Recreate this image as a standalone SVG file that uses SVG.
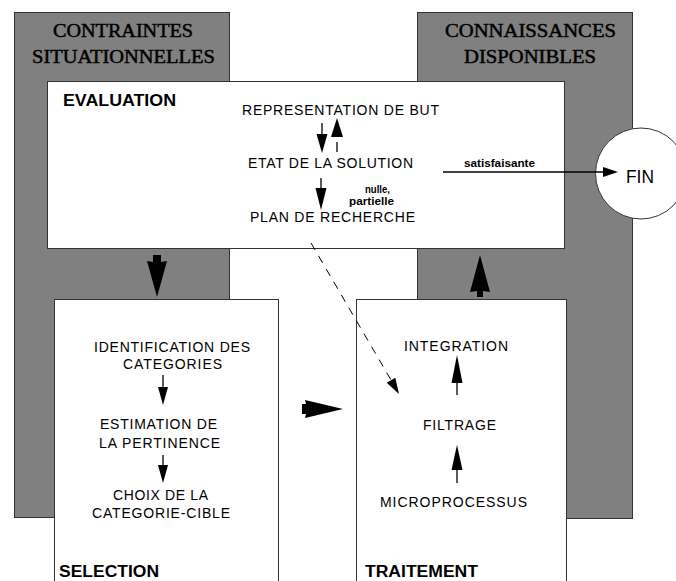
<svg xmlns="http://www.w3.org/2000/svg" width="676" height="581" viewBox="0 0 676 581">
<defs>
<style>
.gray{fill:#808080;stroke:#333;stroke-width:1}
.box{fill:#fff;stroke:#333;stroke-width:1}
.hdr{font-family:"Liberation Serif",serif;font-size:18px;fill:#000;stroke:#000;stroke-width:0.45}
.ttl{font-family:"Liberation Sans",Arial,sans-serif;font-size:16px;font-weight:bold;fill:#000}
.txt{font-family:"Liberation Sans",Arial,sans-serif;font-size:14px;fill:#000}
.sm{font-family:"Liberation Sans",Arial,sans-serif;font-size:10px;font-weight:bold;fill:#000}
.ln{stroke:#000;stroke-width:1.3;fill:none}
.hd{fill:#000;stroke:none}
.dash{stroke:#000;stroke-width:1;fill:none;stroke-dasharray:8 7}
</style>
</defs>
<rect width="676" height="581" fill="#fff"/>

<g id="contraintes">
<rect class="gray" x="14.5" y="12.5" width="215" height="505"/>
<text class="hdr" x="53" y="37" textLength="140" lengthAdjust="spacingAndGlyphs">CONTRAINTES</text>
<text class="hdr" x="32" y="63" textLength="183" lengthAdjust="spacingAndGlyphs">SITUATIONNELLES</text>
</g>

<g id="connaissances">
<rect class="gray" x="417.5" y="12.5" width="215" height="506"/>
<text class="hdr" x="445" y="37" textLength="171" lengthAdjust="spacingAndGlyphs">CONNAISSANCES</text>
<text class="hdr" x="464" y="63" textLength="132" lengthAdjust="spacingAndGlyphs">DISPONIBLES</text>
</g>

<g id="evaluation">
<rect class="box" x="47.5" y="81.5" width="517" height="167"/>
<text class="ttl" x="63" y="106" textLength="113" lengthAdjust="spacingAndGlyphs">EVALUATION</text>
<text class="txt" x="242" y="115" textLength="197" lengthAdjust="spacing">REPRESENTATION DE BUT</text>
<text class="txt" x="248" y="168" textLength="165" lengthAdjust="spacing">ETAT DE LA SOLUTION</text>
<text class="txt" x="250" y="222" textLength="165" lengthAdjust="spacing">PLAN DE RECHERCHE</text>
</g>

<g id="selection">
<rect class="box" x="54.5" y="299.5" width="224" height="290"/>
<text class="txt" x="94" y="352" textLength="156" lengthAdjust="spacing">IDENTIFICATION DES</text>
<text class="txt" x="123" y="369" textLength="99" lengthAdjust="spacing">CATEGORIES</text>
<text class="txt" x="100" y="429" textLength="117" lengthAdjust="spacing">ESTIMATION DE</text>
<text class="txt" x="99" y="448" textLength="121" lengthAdjust="spacing">LA PERTINENCE</text>
<text class="txt" x="113" y="500" textLength="95" lengthAdjust="spacing">CHOIX DE LA</text>
<text class="txt" x="92" y="518" textLength="138" lengthAdjust="spacing">CATEGORIE-CIBLE</text>
<text class="ttl" x="59" y="577" textLength="100" lengthAdjust="spacingAndGlyphs">SELECTION</text>
</g>

<g id="traitement">
<rect class="box" x="356.5" y="299.5" width="210" height="290"/>
<text class="txt" x="404" y="351" textLength="104" lengthAdjust="spacing">INTEGRATION</text>
<text class="txt" x="423" y="430" textLength="73" lengthAdjust="spacing">FILTRAGE</text>
<text class="txt" x="380" y="507" textLength="147" lengthAdjust="spacing">MICROPROCESSUS</text>
<text class="ttl" x="365" y="577" textLength="113" lengthAdjust="spacingAndGlyphs">TRAITEMENT</text>
</g>

<g id="fin">
<circle class="box" cx="641" cy="173.5" r="45.5"/>
<text class="txt" x="626" y="183" style="font-size:19px" textLength="28" lengthAdjust="spacingAndGlyphs">FIN</text>
</g>

<g id="connectors">
<line class="ln" x1="322" y1="123" x2="322" y2="136"/>
<polygon class="hd" points="316.5,134 327.5,134 322,153"/>
<polygon class="hd" points="337,118 343,137 331,137"/>
<line class="ln" x1="337" y1="142" x2="337" y2="152"/>
<line class="ln" x1="321" y1="178" x2="321" y2="190"/>
<polygon class="hd" points="315.5,188 326.5,188 321,210"/>
<text class="sm" x="365" y="193" style="font-size:10.5px" textLength="25" lengthAdjust="spacingAndGlyphs">nulle,</text>
<text class="sm" x="349" y="205" style="font-size:10.5px" textLength="45" lengthAdjust="spacingAndGlyphs">partielle</text>
<line class="ln" x1="443" y1="172" x2="605" y2="172"/>
<polygon class="hd" points="603,167 618,172 603,177"/>
<text class="sm" x="464" y="167" textLength="71" lengthAdjust="spacingAndGlyphs">satisfaisante</text>
<line class="ln" x1="163" y1="375" x2="163" y2="389"/>
<polygon class="hd" points="158,387 168,387 163,405"/>
<line class="ln" x1="163" y1="455" x2="163" y2="467"/>
<polygon class="hd" points="158,465 168,465 163,483"/>
<polygon class="hd" points="457,355 462.5,383 451.5,383"/>
<line class="ln" x1="457" y1="382" x2="457" y2="395"/>
<polygon class="hd" points="457,445 462.5,470 451.5,470"/>
<line class="ln" x1="457" y1="469" x2="457" y2="483"/>
<polygon class="hd" points="153,255 161,255 161,262 167,261 157,297 147,261 153,262"/>
<polygon class="hd" points="480,255 490,292 483,291 483,297 477,297 477,291 470,292"/>
<polygon class="hd" points="302,404 306,404 305,400 343,409 305,418 306,414 302,414"/>
<line class="dash" x1="311" y1="243" x2="391" y2="380"/>
<polygon class="hd" points="399,394 395.3,377.7 386.7,382.7"/>
</g>
</svg>
